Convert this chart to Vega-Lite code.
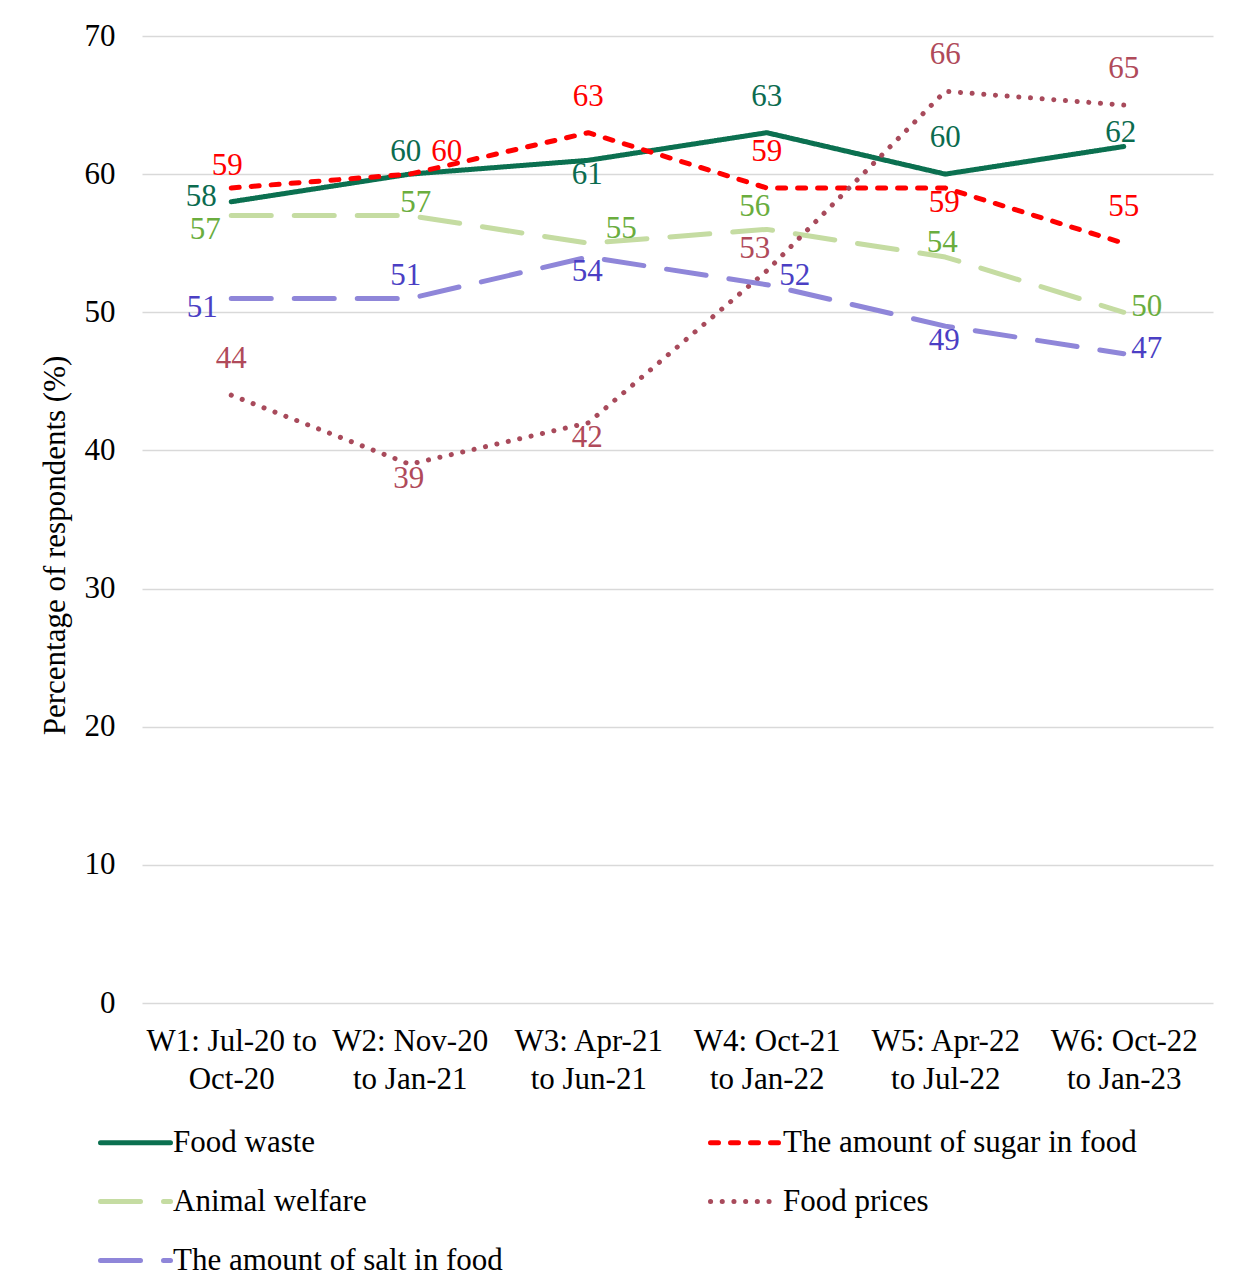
{
  "$schema": "https://vega.github.io/schema/vega-lite/v6.json",
  "width": 1071,
  "height": 967,
  "autosize": {"type": "none"},
  "padding": {"left": 142, "top": 36, "right": 28, "bottom": 280},
  "background": "white",
  "config": {
    "font": "Liberation Serif",
    "view": {"stroke": null},
    "text": {"font": "Liberation Serif", "fontSize": 31, "baseline": "middle", "align": "center"}
  },
  "data": {
    "values": [
      {"wave": "W1: Jul-20 to Oct-20", "series": "Food waste", "value": 58},
      {"wave": "W2: Nov-20 to Jan-21", "series": "Food waste", "value": 60},
      {"wave": "W3: Apr-21 to Jun-21", "series": "Food waste", "value": 61},
      {"wave": "W4: Oct-21 to Jan-22", "series": "Food waste", "value": 63},
      {"wave": "W5: Apr-22 to Jul-22", "series": "Food waste", "value": 60},
      {"wave": "W6: Oct-22 to Jan-23", "series": "Food waste", "value": 62},
      {"wave": "W1: Jul-20 to Oct-20", "series": "The amount of sugar in food", "value": 59},
      {"wave": "W2: Nov-20 to Jan-21", "series": "The amount of sugar in food", "value": 60},
      {"wave": "W3: Apr-21 to Jun-21", "series": "The amount of sugar in food", "value": 63},
      {"wave": "W4: Oct-21 to Jan-22", "series": "The amount of sugar in food", "value": 59},
      {"wave": "W5: Apr-22 to Jul-22", "series": "The amount of sugar in food", "value": 59},
      {"wave": "W6: Oct-22 to Jan-23", "series": "The amount of sugar in food", "value": 55},
      {"wave": "W1: Jul-20 to Oct-20", "series": "Animal welfare", "value": 57},
      {"wave": "W2: Nov-20 to Jan-21", "series": "Animal welfare", "value": 57},
      {"wave": "W3: Apr-21 to Jun-21", "series": "Animal welfare", "value": 55},
      {"wave": "W4: Oct-21 to Jan-22", "series": "Animal welfare", "value": 56},
      {"wave": "W5: Apr-22 to Jul-22", "series": "Animal welfare", "value": 54},
      {"wave": "W6: Oct-22 to Jan-23", "series": "Animal welfare", "value": 50},
      {"wave": "W1: Jul-20 to Oct-20", "series": "Food prices", "value": 44},
      {"wave": "W2: Nov-20 to Jan-21", "series": "Food prices", "value": 39},
      {"wave": "W3: Apr-21 to Jun-21", "series": "Food prices", "value": 42},
      {"wave": "W4: Oct-21 to Jan-22", "series": "Food prices", "value": 53},
      {"wave": "W5: Apr-22 to Jul-22", "series": "Food prices", "value": 66},
      {"wave": "W6: Oct-22 to Jan-23", "series": "Food prices", "value": 65},
      {"wave": "W1: Jul-20 to Oct-20", "series": "The amount of salt in food", "value": 51},
      {"wave": "W2: Nov-20 to Jan-21", "series": "The amount of salt in food", "value": 51},
      {"wave": "W3: Apr-21 to Jun-21", "series": "The amount of salt in food", "value": 54},
      {"wave": "W4: Oct-21 to Jan-22", "series": "The amount of salt in food", "value": 52},
      {"wave": "W5: Apr-22 to Jul-22", "series": "The amount of salt in food", "value": 49},
      {"wave": "W6: Oct-22 to Jan-23", "series": "The amount of salt in food", "value": 47}
    ]
  },
  "encoding": {
    "x": {
      "field": "wave",
      "type": "nominal",
      "sort": null,
      "scale": {"type": "point", "padding": 0.5},
      "axis": {
        "title": null,
        "labelAngle": 0,
        "labelFontSize": 31,
        "labelColor": "black",
        "labelPadding": 23,
        "labelLineHeight": 38,
        "labelLimit": 0,
        "ticks": false,
        "domain": false,
        "grid": false,
        "labelExpr": "slice(datum.value,0,2)=='W1' ? ['W1: Jul-20 to','Oct-20'] : [slice(datum.value,0,10), slice(datum.value,11)]"
      }
    },
    "y": {
      "field": "value",
      "type": "quantitative",
      "scale": {"domain": [0, 70], "nice": false},
      "axis": {
        "title": "Percentage of respondents (%)",
        "titleFontSize": 31,
        "titleFontWeight": "normal",
        "titleColor": "black",
        "titleX": -87,
        "titleY": 509,
        "titleBaseline": "middle",
        "values": [0, 10, 20, 30, 40, 50, 60, 70],
        "labelFontSize": 31,
        "labelColor": "black",
        "labelPadding": 27,
        "ticks": false,
        "domain": false,
        "grid": true,
        "gridColor": "#d9d9d9",
        "gridWidth": 1.5
      }
    }
  },
  "layer": [
    {
      "mark": {"type": "line", "strokeWidth": 5, "strokeCap": "round", "strokeJoin": "round"},
      "encoding": {
        "color": {
          "field": "series",
          "type": "nominal",
          "scale": {
            "domain": ["Food waste", "Animal welfare", "The amount of salt in food", "The amount of sugar in food", "Food prices"],
            "range": ["#0b7050", "#c5dca2", "#8f86d9", "#ff0000", "#a84a5b"]
          },
          "legend": {
            "title": null,
            "orient": "none",
            "legendX": -44,
            "legendY": 1069,
            "columns": 2,
            "columnPadding": 197,
            "rowPadding": 6,
            "padding": 0,
            "symbolType": "stroke",
            "symbolSize": 4900,
            "symbolStrokeWidth": 5,
            "labelFontSize": 31,
            "labelColor": "black",
            "labelOffset": 0,
            "labelLimit": 0,
            "encode": {"symbols": {"update": {"strokeCap": {"value": "round"}}}}
          }
        },
        "strokeDash": {
          "field": "series",
          "type": "nominal",
          "scale": {
            "domain": ["Food waste", "Animal welfare", "The amount of salt in food", "The amount of sugar in food", "Food prices"],
            "range": [[1, 0], [40, 23], [40, 23], [8, 12], [0.1, 11.6]]
          },
          "legend": {
            "title": null,
            "orient": "none",
            "legendX": -44,
            "legendY": 1069,
            "columns": 2,
            "columnPadding": 197,
            "rowPadding": 6,
            "padding": 0,
            "symbolType": "stroke",
            "symbolSize": 4900,
            "symbolStrokeWidth": 5,
            "labelFontSize": 31,
            "labelColor": "black",
            "labelOffset": 0,
            "labelLimit": 0,
            "encode": {"symbols": {"update": {"strokeCap": {"value": "round"}}}}
          }
        }
      }
    },
    {
      "transform": [{"filter": "indexof(['Food prices|W5','Food prices|W6','Food waste|W4','The amount of sugar in food|W4','Food waste|W5','The amount of sugar in food|W6','The amount of sugar in food|W3','Food prices|W1'], datum.series + '|' + slice(datum.wave,0,2)) >= 0"}],
      "mark": {"type": "text", "dx": 0, "dy": -36},
      "encoding": {
        "text": {"field": "value"},
        "fill": {"field": "series", "type": "nominal", "legend": null,
          "scale": {"domain": ["Food waste", "The amount of sugar in food", "Animal welfare", "Food prices", "The amount of salt in food"],
            "range": ["#0b6b4f", "#ff0000", "#6aad3e", "#b04a5a", "#4b3fc4"]}}
      }
    },
    {
      "transform": [{"filter": "indexof(['The amount of sugar in food|W1','Food waste|W2','The amount of salt in food|W2'], datum.series + '|' + slice(datum.wave,0,2)) >= 0"}],
      "mark": {"type": "text", "dx": -4, "dy": -22},
      "encoding": {"text": {"field": "value"}, "fill": {"field": "series", "type": "nominal", "legend": null}}
    },
    {
      "transform": [{"filter": "indexof(['Food waste|W6','Animal welfare|W5'], datum.series + '|' + slice(datum.wave,0,2)) >= 0"}],
      "mark": {"type": "text", "dx": -3, "dy": -14},
      "encoding": {"text": {"field": "value"}, "fill": {"field": "series", "type": "nominal", "legend": null}}
    },
    {
      "transform": [{"filter": "indexof(['Animal welfare|W2'], datum.series + '|' + slice(datum.wave,0,2)) >= 0"}],
      "mark": {"type": "text", "dx": 6, "dy": -13},
      "encoding": {"text": {"field": "value"}, "fill": {"field": "series", "type": "nominal", "legend": null}}
    },
    {
      "transform": [{"filter": "indexof(['Food waste|W3','The amount of sugar in food|W5','The amount of salt in food|W3','Food prices|W2','Food prices|W3','The amount of salt in food|W5'], datum.series + '|' + slice(datum.wave,0,2)) >= 0"}],
      "mark": {"type": "text", "dx": -1, "dy": 15},
      "encoding": {"text": {"field": "value"}, "fill": {"field": "series", "type": "nominal", "legend": null}}
    },
    {
      "transform": [{"filter": "indexof(['Food waste|W1'], datum.series + '|' + slice(datum.wave,0,2)) >= 0"}],
      "mark": {"type": "text", "dx": -30, "dy": -5},
      "encoding": {"text": {"field": "value"}, "fill": {"field": "series", "type": "nominal", "legend": null}}
    },
    {
      "transform": [{"filter": "indexof(['Animal welfare|W1'], datum.series + '|' + slice(datum.wave,0,2)) >= 0"}],
      "mark": {"type": "text", "dx": -26, "dy": 14},
      "encoding": {"text": {"field": "value"}, "fill": {"field": "series", "type": "nominal", "legend": null}}
    },
    {
      "transform": [{"filter": "indexof(['The amount of salt in food|W1'], datum.series + '|' + slice(datum.wave,0,2)) >= 0"}],
      "mark": {"type": "text", "dx": -29, "dy": 10},
      "encoding": {"text": {"field": "value"}, "fill": {"field": "series", "type": "nominal", "legend": null}}
    },
    {
      "transform": [{"filter": "indexof(['The amount of sugar in food|W2'], datum.series + '|' + slice(datum.wave,0,2)) >= 0"}],
      "mark": {"type": "text", "dx": 37, "dy": -22},
      "encoding": {"text": {"field": "value"}, "fill": {"field": "series", "type": "nominal", "legend": null}}
    },
    {
      "transform": [{"filter": "indexof(['Animal welfare|W3'], datum.series + '|' + slice(datum.wave,0,2)) >= 0"}],
      "mark": {"type": "text", "dx": 33, "dy": -14},
      "encoding": {"text": {"field": "value"}, "fill": {"field": "series", "type": "nominal", "legend": null}}
    },
    {
      "transform": [{"filter": "indexof(['The amount of salt in food|W4'], datum.series + '|' + slice(datum.wave,0,2)) >= 0"}],
      "mark": {"type": "text", "dx": 28, "dy": -9},
      "encoding": {"text": {"field": "value"}, "fill": {"field": "series", "type": "nominal", "legend": null}}
    },
    {
      "transform": [{"filter": "indexof(['Animal welfare|W6','The amount of salt in food|W6'], datum.series + '|' + slice(datum.wave,0,2)) >= 0"}],
      "mark": {"type": "text", "dx": 23, "dy": -5},
      "encoding": {"text": {"field": "value"}, "fill": {"field": "series", "type": "nominal", "legend": null}}
    },
    {
      "transform": [{"filter": "indexof(['Animal welfare|W4','Food prices|W4'], datum.series + '|' + slice(datum.wave,0,2)) >= 0"}],
      "mark": {"type": "text", "dx": -12, "dy": -22},
      "encoding": {"text": {"field": "value"}, "fill": {"field": "series", "type": "nominal", "legend": null}}
    }
  ]
}
